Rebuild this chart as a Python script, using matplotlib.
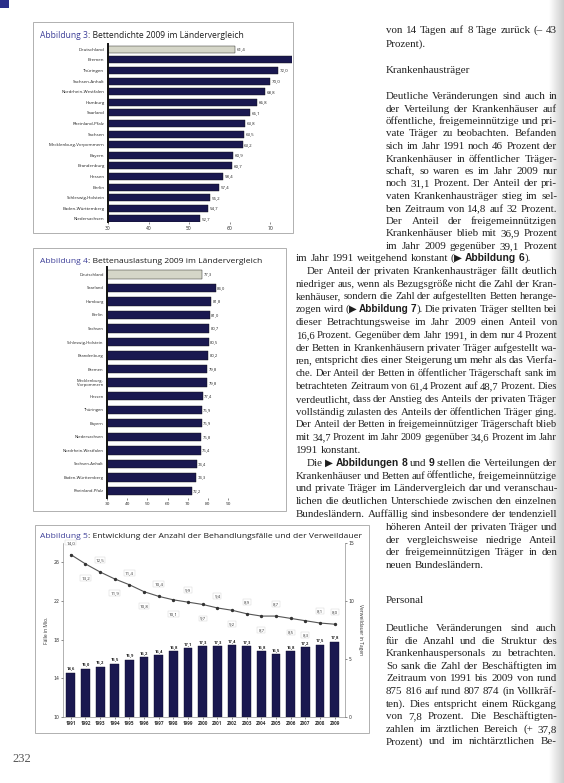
import numpy as np
import matplotlib
matplotlib.use('Agg')
import matplotlib.pyplot as plt
from matplotlib.patches import Rectangle
from matplotlib.colors import LinearSegmentedColormap

# ---------------- data ----------------
laender_dichte = ["Deutschland", "Bremen", "Thüringen", "Sachsen-Anhalt", "Nordrhein-Westfalen",
                  "Hamburg", "Saarland", "Rheinland-Pfalz", "Sachsen", "Mecklenburg-Vorpommern",
                  "Bayern", "Brandenburg", "Hessen", "Berlin", "Schleswig-Holstein",
                  "Baden-Württemberg", "Niedersachsen"]
bettendichte = [61.4, 80.0, 72.0, 70.0, 68.8, 66.8, 65.1, 63.8, 63.5, 63.2,
                60.9, 60.7, 58.4, 57.4, 55.2, 54.7, 52.7]

laender_auslastung = ["Deutschland", "Saarland", "Hamburg", "Berlin", "Sachsen",
                      "Schleswig-Holstein", "Brandenburg", "Bremen", "Mecklenburg-\nVorpommern",
                      "Hessen", "Thüringen", "Bayern", "Niedersachsen", "Nordrhein-Westfalen",
                      "Sachsen-Anhalt", "Baden-Württemberg", "Rheinland-Pfalz"]
bettenauslastung = [77.3, 84.0, 81.8, 81.0, 80.7, 80.5, 80.2, 79.8, 79.8,
                    77.4, 76.9, 76.9, 76.8, 76.4, 74.4, 74.3, 72.2]

jahre = ["1991", "1992", "1993", "1994", "1995", "1996", "1997", "1998", "1999", "2000",
         "2001", "2002", "2003", "2004", "2005", "2006", "2007", "2008", "2009"]
behandlungsfaelle = [14.6, 15.0, 15.2, 15.5, 15.9, 16.2, 16.4, 16.8, 17.1, 17.3,
                     17.3, 17.4, 17.3, 16.8, 16.5, 16.8, 17.2, 17.5, 17.8]
verweildauer = [14.0, 13.2, 12.5, 11.9, 11.4, 10.8, 10.4, 10.1, 9.9, 9.7,
                9.4, 9.2, 8.9, 8.7, 8.7, 8.5, 8.3, 8.1, 8.0]
label_pos = ['a', 'b', 'a', 'b', 'a', 'b', 'a', 'b', 'a', 'b',
             'a', 'b', 'a', 'b', 'a', 'b', 'b', 'a', 'a']

# ---------------- figure ----------------
W, H = 564, 783
fig = plt.figure(figsize=(W / 100, H / 100), dpi=100)
fig.patch.set_facecolor('white')
renderer = fig.canvas.get_renderer()

NAVY = '#1a1850'
GREYBAR = '#d5d6c8'
BLUE = '#3d3f98'
TXT = '#222222'
SERIF = ['Liberation Serif', 'DejaVu Serif']
SANS = ['Open Sans', 'DejaVu Sans']
SANSB = ['Liberation Sans', 'DejaVu Sans']


def ax_px(x0, y0, x1, y1):
    return fig.add_axes([x0 / W, 1 - y1 / H, (x1 - x0) / W, (y1 - y0) / H])


def box(x0, y0, x1, y1, ec='#a4a4a4', lw=0.6):
    fig.add_artist(Rectangle((x0 / W, 1 - y1 / H), (x1 - x0) / W, (y1 - y0) / H,
                             transform=fig.transFigure, fill=False, ec=ec, lw=lw))


def measure(s, fs, family, weight='normal'):
    t = fig.text(0, 0, s, fontsize=fs, family=family, fontweight=weight)
    w = t.get_window_extent(renderer).width
    t.remove()
    return w


# right page shadow strip
ax_s = ax_px(549, 0, 564, 783)
cm = LinearSegmentedColormap.from_list('sh', ['#ffffff', '#e6e6e6', '#cdcdcd'])
ax_s.imshow(np.linspace(0, 1, 40)[None, :], aspect='auto', cmap=cm)
ax_s.axis('off')

# small corner mark
fig.add_artist(Rectangle((0, 1 - 8 / H), 9 / W, 8 / H, transform=fig.transFigure,
                         color='#2b2f8a', lw=0))


# ---------------- chart titles ----------------
def title(x0, x1, yb, num, rest):
    a = f"Abbildung {num}"
    b = f": {rest}"
    base = 10
    wa = measure(a, base, SANS)
    wb = measure(b, base, SANS)
    fs = base * (x1 - x0) / (wa + wb)
    t1 = fig.text(x0 / W, 1 - yb / H, a, fontsize=fs, family=SANS, color=BLUE, va='baseline')
    wa2 = t1.get_window_extent(renderer).width
    fig.text((x0 + wa2) / W, 1 - yb / H, b, fontsize=fs, family=SANS, color='#1c1c1c',
             va='baseline')


# ---------------- Abbildung 3 ----------------
box(33, 22, 293, 233)
title(40, 243, 38, 3, "Bettendichte 2009 im Ländervergleich")
ax3 = ax_px(108, 44, 292, 222)
n3 = len(laender_dichte)
y3 = np.arange(n3)
cols3 = [GREYBAR] + [NAVY] * (n3 - 1)
ax3.barh(y3, [v - 30 for v in bettendichte], left=30, height=0.66, color=cols3,
         edgecolor='#111111', linewidth=0.3)
ax3.set_xlim(30, 75.4)
ax3.set_ylim(16.3, -0.5)
ax3.set_yticks(y3)
ax3.set_yticklabels(laender_dichte, fontsize=3.2, family=SANS, color='#222222')
ax3.set_xticks([30, 40, 50, 60, 70])
ax3.tick_params(axis='x', labelsize=3.3, length=1.5, width=0.4, pad=1.5, colors='#333333')
ax3.tick_params(axis='y', length=0, pad=2.5)
for s in ['top', 'right', 'bottom']:
    ax3.spines[s].set_visible(False)
ax3.spines['left'].set_linewidth(1.4)
ax3.spines['left'].set_color('#111111')
for yi, v in zip(y3, bettendichte):
    ax3.text(v + 0.4, yi, f"{v:.1f}".replace('.', ','), fontsize=3.2, va='center',
             ha='left', family=SANS, color='#222222', clip_on=True)

# ---------------- Abbildung 4 ----------------
box(33, 248, 286, 511)
title(40, 260, 263, 4, "Bettenauslastung 2009 im Ländervergleich")
ax4 = ax_px(107, 267, 228, 498)
n4 = len(laender_auslastung)
y4 = np.arange(n4)
cols4 = [GREYBAR] + [NAVY] * (n4 - 1)
ax4.barh(y4, [v - 30 for v in bettenauslastung], left=30, height=0.62, color=cols4,
         edgecolor='#111111', linewidth=0.3)
ax4.set_xlim(30, 90)
ax4.set_ylim(16.52, -0.54)
ax4.set_yticks(y4)
ax4.set_yticklabels(laender_auslastung, fontsize=3.0, family=SANS, color='#222222',
                    linespacing=0.9)
ax4.set_xticks([30, 40, 50, 60, 70, 80, 90])
ax4.tick_params(axis='x', labelsize=3.2, length=1.5, width=0.4, pad=1.5, colors='#333333')
ax4.tick_params(axis='y', length=0, pad=2.5)
for s in ['top', 'right', 'bottom']:
    ax4.spines[s].set_visible(False)
ax4.spines['left'].set_linewidth(1.4)
ax4.spines['left'].set_color('#111111')
for yi, v in zip(y4, bettenauslastung):
    ax4.text(v + 0.6, yi, f"{v:.1f}".replace('.', ','), fontsize=3.0, va='center',
             ha='left', family=SANS, color='#222222')

# ---------------- Abbildung 5 ----------------
box(35, 525, 369, 733)
title(40, 358, 538, 5, "Entwicklung der Anzahl der Behandlungsfälle und der Verweildauer")
ax5 = ax_px(63, 543, 345, 717)
x5 = np.arange(len(jahre))
ax5.bar(x5, [v - 10 for v in behandlungsfaelle], bottom=10, width=0.6, color=NAVY,
        edgecolor='#0d0c2a', linewidth=0.3)
ax5.set_xlim(-0.53, 18.7)
ax5.set_ylim(10, 28)
ax5.set_yticks([10, 14, 18, 22, 26])
ax5.set_xticks(x5)
ax5.set_xticklabels(jahre, fontsize=3.3, family=SANS, fontweight='bold', color='#333333')
ax5.tick_params(axis='both', labelsize=3.3, length=1.2, width=0.4, pad=1.5, colors='#333333')
for s in ['top', 'right']:
    ax5.spines[s].set_visible(False)
for s in ['left', 'bottom']:
    ax5.spines[s].set_linewidth(0.4)
    ax5.spines[s].set_color('#777777')
ax5.set_ylabel("Fälle in Mio.", fontsize=3.6, family=SANS, labelpad=3, color='#333333')
for xi, v in zip(x5, behandlungsfaelle):
    ax5.text(xi, v + 0.25, f"{v:.1f}".replace('.', ','), fontsize=3.0, ha='center',
             va='bottom', family=SANS, fontweight='bold', color='#222222',
             bbox=dict(boxstyle='square,pad=0.15', fc='white', ec='none'))

ax6 = ax5.twinx()
ax6.set_ylim(0, 15)
ax6.set_yticks([0, 5, 10, 15])
ax6.plot(x5, verweildauer, color='#555555', lw=0.8, marker='o', ms=1.4,
         mfc='#333333', mec='#333333')
ax6.tick_params(axis='y', labelsize=3.3, length=1.2, width=0.4, pad=1.5, colors='#333333')
for s in ['top', 'left', 'bottom']:
    ax6.spines[s].set_visible(False)
ax6.spines['right'].set_linewidth(0.4)
ax6.spines['right'].set_color('#777777')
ax6.set_ylabel("Verweildauer in Tagen", fontsize=3.6, family=SANS, rotation=270,
               labelpad=6, color='#333333')
for xi, v, p in zip(x5, verweildauer, label_pos):
    off = 12 if p == 'a' else -14
    ax6.annotate(f"{v:.1f}".replace('.', ','), (xi, v), xytext=(0, off),
                 textcoords='offset pixels', ha='center', va='center', fontsize=3.2,
                 family=SANS, color='#333333',
                 bbox=dict(boxstyle='square,pad=0.2', fc='white', ec='#d0d0d0', lw=0.3))

# ---------------- body text ----------------
narrow_top = [
    "von 14 Tagen auf 8 Tage zurück (– 43",
    "<Prozent).",
]
narrow_a = [
    "Deutliche Veränderungen sind auch in",
    "der Verteilung der Krankenhäuser auf",
    "öffentliche, freigemeinnützige und pri-",
    "vate Träger zu beobachten. Befanden",
    "sich im Jahr 1991 noch 46 Prozent der",
    "Krankenhäuser in öffentlicher Träger-",
    "schaft, so waren es im Jahr 2009 nur",
    "noch 31,1 Prozent. Der Anteil der pri-",
    "vaten Krankenhausträger stieg im sel-",
    "ben Zeitraum von 14,8 auf 32 Prozent.",
    "Der Anteil der freigemeinnützigen",
    "Krankenhäuser blieb mit 36,9 Prozent",
    "im Jahr 2009 gegenüber 39,1 Prozent",
]
wide = [
    "<im Jahr 1991 weitgehend konstant ({▶ Abbildung 6}).",
    ">Der Anteil der privaten Krankenhausträger fällt deutlich",
    "niedriger aus, wenn als Bezugsgröße nicht die Zahl der Kran-",
    "kenhäuser, sondern die Zahl der aufgestellten Betten herange-",
    "zogen wird ({▶ Abbildung 7}). Die privaten Träger stellten bei",
    "dieser Betrachtungsweise im Jahr 2009 einen Anteil von",
    "16,6 Prozent. Gegenüber dem Jahr 1991, in dem nur 4 Prozent",
    "der Betten in Krankenhäusern privater Träger aufgestellt wa-",
    "ren, entspricht dies einer Steigerung um mehr als das Vierfa-",
    "che. Der Anteil der Betten in öffentlicher Trägerschaft sank im",
    "betrachteten Zeitraum von 61,4 Prozent auf 48,7 Prozent. Dies",
    "verdeutlicht, dass der Anstieg des Anteils der privaten Träger",
    "vollständig zulasten des Anteils der öffentlichen Träger ging.",
    "Der Anteil der Betten in freigemeinnütziger Trägerschaft blieb",
    "mit 34,7 Prozent im Jahr 2009 gegenüber 34,6 Prozent im Jahr",
    "<1991 konstant.",
    ">Die {▶ Abbildungen 8} und {9} stellen die Verteilungen der",
    "Krankenhäuser und Betten auf öffentliche, freigemeinnützige",
    "und private Träger im Ländervergleich dar und veranschau-",
    "lichen die deutlichen Unterschiede zwischen den einzelnen",
    "Bundesländern. Auffällig sind insbesondere der tendenziell",
]
narrow_b = [
    "höheren Anteil der privaten Träger und",
    "der vergleichsweise niedrige Anteil",
    "der freigemeinnützigen Träger in den",
    "<neuen Bundesländern.",
]
narrow_c = [
    "Deutliche Veränderungen sind auch",
    "für die Anzahl und die Struktur des",
    "Krankenhauspersonals zu betrachten.",
    "So sank die Zahl der Beschäftigten im",
    "Zeitraum von 1991 bis 2009 von rund",
    "875 816 auf rund 807 874 (in Vollkräf-",
    "ten). Dies entspricht einem Rückgang",
    "von 7,8 Prozent. Die Beschäftigten-",
    "zahlen im ärztlichen Bereich (+ 37,8",
    "Prozent) und im nichtärztlichen Be-",
]

NX0, NX1 = 386, 557
WX0, WX1 = 296, 557
INDENT = 11


def parse_words(line):
    words, cur, buf, bold = [], [], '', False
    for ch in line:
        if ch in '{}':
            if buf:
                cur.append((buf, bold))
                buf = ''
            bold = (ch == '{')
        elif ch == ' ':
            if buf:
                cur.append((buf, bold))
                buf = ''
            if cur:
                words.append(cur)
                cur = []
        else:
            buf += ch
    if buf:
        cur.append((buf, bold))
    if cur:
        words.append(cur)
    return words


def strip_flags(line):
    just, indent = True, 0
    while line and line[0] in '<>':
        if line[0] == '<':
            just = False
        else:
            indent = INDENT
        line = line[1:]
    return line, just, indent


# common font size from natural widths of justified lines
BASE = 10.0
ratios = []
for block, x0, x1 in [(narrow_a, NX0, NX1), (wide, WX0, WX1), (narrow_b, NX0, NX1),
                      (narrow_c, NX0, NX1)]:
    for ln in block:
        txt, just, ind = strip_flags(ln)
        if not just:
            continue
        plain = txt.replace('{', '').replace('}', '')
        ratios.append((x1 - x0 - ind) / measure(plain, BASE, SERIF))
FS = BASE * float(np.percentile(ratios, 35))


def piece(b, fs):
    if b:
        return dict(fontsize=fs * 0.93, family=SANSB, fontweight='bold', color='#1e1e1e')
    return dict(fontsize=fs, family=SERIF, color=TXT)


def draw_line(line, x0, x1, yb):
    txt, just, ind = strip_flags(line)
    words = parse_words(txt)
    xs = x0 + ind
    avail = x1 - xs
    fs = FS

    def word_widths(fs_):
        out = []
        for w in words:
            row = []
            for s, b in w:
                p = piece(b, fs_)
                row.append(measure(s, p['fontsize'], p['family'], p.get('fontweight', 'normal')))
            out.append(row)
        return out

    space = measure('a a', fs, SERIF) - measure('aa', fs, SERIF)
    widths = word_widths(fs)
    total = sum(sum(ws) for ws in widths)
    min_need = total + space * 0.7 * (len(words) - 1)
    if min_need > avail:
        fs = fs * avail / min_need * 0.995
        widths = word_widths(fs)
        total = sum(sum(ws) for ws in widths)
        space = measure('a a', fs, SERIF) - measure('aa', fs, SERIF)
    if just and len(words) > 1:
        gap = (avail - total) / (len(words) - 1)
    else:
        gap = space
    x = xs
    for w, ws in zip(words, widths):
        for (s, b), pw in zip(w, ws):
            fig.text(x / W, 1 - yb / H, s, va='baseline', ha='left', **piece(b, fs))
            x += pw
        x += gap


def draw_block(lines, x0, x1, y_first, step):
    for i, ln in enumerate(lines):
        draw_line(ln, x0, x1, y_first + i * step)


draw_block(narrow_top, NX0, NX1, 33, 14)
draw_line("<Krankenhausträger", NX0, NX1, 73)
draw_block(narrow_a, NX0, NX1, 99, 12.5)
draw_block(wide, WX0, WX1, 261, 12.8)
draw_block(narrow_b, NX0, NX1, 261 + 21 * 12.8, 12.8)
draw_line("<Personal", NX0, NX1, 603)
draw_block(narrow_c, NX0, NX1, 631, 12.6)

# page number
fig.text(12 / W, 1 - 762 / H, "232", fontsize=9, family=SERIF, color='#555555',
         va='baseline', ha='left')

fig.savefig('out.png', dpi=100, facecolor='white')
